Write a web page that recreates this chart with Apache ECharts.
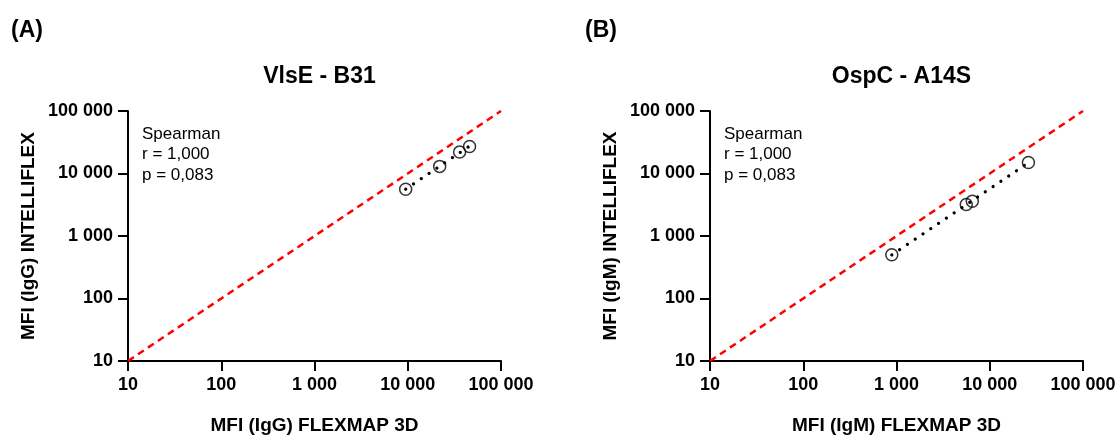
<!DOCTYPE html>
<html>
<head>
<meta charset="utf-8">
<script src="https://cdn.jsdelivr.net/npm/echarts@6/dist/echarts.min.js"></script>
<style>
  html, body { margin: 0; padding: 0; background: #fff; }
  #chart { width: 1120px; height: 437px; }
</style>
</head>
<body>
<div id="chart"></div>
<script>
// valores (MFI)
const flexmapIgG = [9500, 22000, 36000, 46000];
const intelliflexIgG = [5600, 13000, 22000, 27000];
const flexmapIgM = [890, 5600, 6500, 26000];
const intelliflexIgM = [500, 3200, 3600, 15000];

const panelLetters = ['(A)', '(B)'];
const panelTitles = ['VlsE - B31', 'OspC - A14S'];
const xNames = ['MFI (IgG) FLEXMAP 3D', 'MFI (IgM) FLEXMAP 3D'];
const yNames = ['MFI (IgG) INTELLIFLEX', 'MFI (IgM) INTELLIFLEX'];
const statsText = [
  ['Spearman', 'r = 1,000', 'p = 0,083'],
  ['Spearman', 'r = 1,000', 'p = 0,083']
];
const axisMin = 10;
const axisMax = 100000;

const FONT = "'Liberation Sans', Arial, sans-serif";

// formata 100000 -> "100 000"
const fmt = v => String(Math.round(v)).replace(/\B(?=(\d{3})+(?!\d))/g, ' ');

// regressão linear em escala log-log
function logFit(xs, ys) {
  const lx = xs.map(Math.log10), ly = ys.map(Math.log10);
  const n = lx.length;
  const mx = lx.reduce((a, b) => a + b, 0) / n;
  const my = ly.reduce((a, b) => a + b, 0) / n;
  let sxy = 0, sxx = 0;
  for (let i = 0; i < n; i++) {
    sxy += (lx[i] - mx) * (ly[i] - my);
    sxx += (lx[i] - mx) * (lx[i] - mx);
  }
  const b = sxy / sxx, a = my - b * mx;
  const x0 = Math.min(...xs), x1 = Math.max(...xs);
  return [[x0, Math.pow(10, a + b * Math.log10(x0))], [x1, Math.pow(10, a + b * Math.log10(x1))]];
}

const panels = [
  { x: flexmapIgG, y: intelliflexIgG, left: 128 },
  { x: flexmapIgM, y: intelliflexIgM, left: 710 }
];
const gridW = 373, gridTop = 111, gridH = 250;

const axisCommon = {
  type: 'log',
  logBase: 10,
  min: axisMin,
  max: axisMax,
  axisLine: { show: true, lineStyle: { color: '#000', width: 2 } },
  axisTick: { show: true, length: 10, lineStyle: { color: '#000', width: 2 } },
  splitLine: { show: false },
  minorTick: { show: false },
  axisLabel: {
    color: '#000', fontFamily: FONT, fontWeight: 'bold', fontSize: 18,
    margin: 15, formatter: fmt
  },
  nameLocation: 'middle',
  nameTextStyle: { color: '#000', fontFamily: FONT, fontWeight: 'bold', fontSize: 19 }
};

const grids = [], xAxes = [], yAxes = [], series = [], titles = [];

panels.forEach((p, i) => {
  grids.push({
    left: p.left, top: gridTop, width: gridW, height: gridH,
    containLabel: false, outerBoundsMode: 'none'
  });
  xAxes.push(Object.assign({}, axisCommon, { gridIndex: i, name: xNames[i], nameGap: 55 }));
  yAxes.push(Object.assign({}, axisCommon, { gridIndex: i, name: yNames[i], nameGap: 90 }));

  // linha de identidade
  series.push({
    type: 'line', xAxisIndex: i, yAxisIndex: i,
    data: [[axisMin, axisMin], [axisMax, axisMax]],
    symbol: 'none', silent: true, z: 1,
    lineStyle: { color: '#ff0000', width: 2.5, type: [7, 5] }
  });
  // regressão
  series.push({
    type: 'line', xAxisIndex: i, yAxisIndex: i,
    data: logFit(p.x, p.y),
    symbol: 'none', silent: true, z: 2,
    lineStyle: { color: '#000', width: 3.2, type: [0.1, 9.3], cap: 'round' }
  });
  series.push({
    type: 'scatter', xAxisIndex: i, yAxisIndex: i,
    data: p.x.map((v, k) => [v, p.y[k]]),
    symbol: 'circle', symbolSize: 12, z: 3,
    itemStyle: { color: 'rgba(0,0,0,0)', borderColor: '#000', borderWidth: 1.5 }
  });

  titles.push({
    text: panelLetters[i], left: i === 0 ? 6 : 580, top: 14,
    textStyle: { fontFamily: FONT, fontWeight: 'bold', fontSize: 23, color: '#000' }
  });
  titles.push({
    text: panelTitles[i], left: p.left + gridW / 2, top: 60, textAlign: 'center',
    textStyle: { fontFamily: FONT, fontWeight: 'bold', fontSize: 23, color: '#000' }
  });
  titles.push({
    text: statsText[i].join('\n'), left: p.left + 9, top: 119,
    textStyle: { fontFamily: FONT, fontWeight: 'normal', fontSize: 17, lineHeight: 20.5, color: '#000' }
  });
});

const chart = echarts.init(document.getElementById('chart'));
chart.setOption({
  backgroundColor: '#fff',
  animation: false,
  title: titles,
  grid: grids,
  xAxis: xAxes,
  yAxis: yAxes,
  series: series
});
</script>
</body>
</html>
